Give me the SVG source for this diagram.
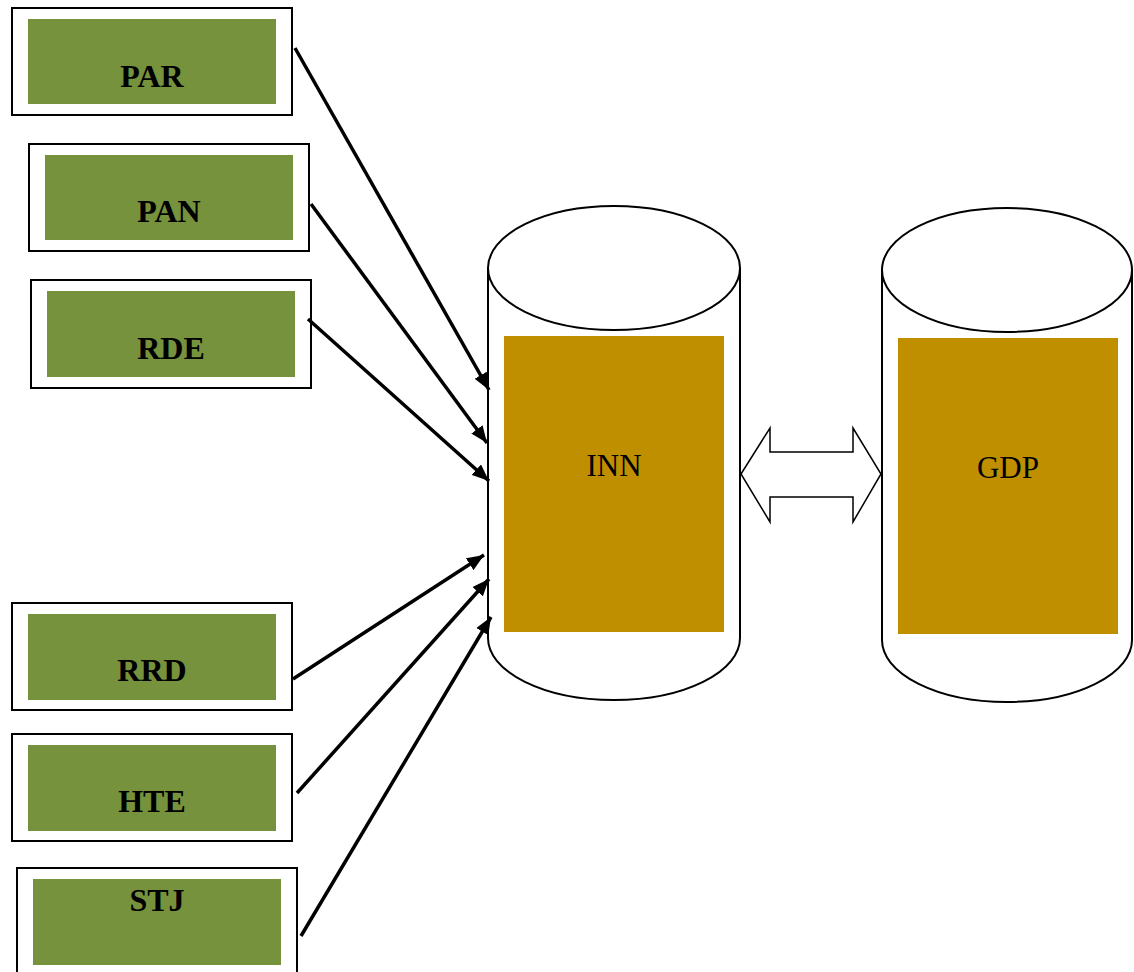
<svg xmlns="http://www.w3.org/2000/svg" width="1134" height="972" viewBox="0 0 1134 972">
  <style>
    .frame { fill: #ffffff; stroke: #000000; stroke-width: 2; }
    .panel { fill: #77923c; }
    .label { font-family: "Liberation Serif", "Times New Roman", serif; font-size: 32px; font-weight: bold; fill: #000000; text-anchor: middle; }
    .cyl { fill: #ffffff; stroke: #000000; stroke-width: 2; }
    .core { fill: #bf8f00; }
    .core-label { font-family: "Liberation Serif", "Times New Roman", serif; font-size: 31px; fill: #000000; text-anchor: middle; }
    .link { stroke: #000000; stroke-width: 3.5; fill: none; marker-end: url(#head); }
  </style>
  <defs>
    <marker id="head" markerUnits="userSpaceOnUse" markerWidth="18" markerHeight="14" refX="17" refY="7" orient="auto">
      <path d="M0,0 L17,7 L0,14 Z" fill="#000000"/>
    </marker>
  </defs>

  <rect width="1134" height="972" fill="#ffffff"/>

  <!-- input factors -->
  <g id="node-par">
    <rect class="frame" x="12" y="8" width="280" height="107"/>
    <rect class="panel" x="28" y="19" width="248" height="85"/>
    <text class="label" x="152" y="87">PAR</text>
  </g>
  <g id="node-pan">
    <rect class="frame" x="29" y="144" width="280" height="107"/>
    <rect class="panel" x="45" y="155" width="248" height="85"/>
    <text class="label" x="169" y="222">PAN</text>
  </g>
  <g id="node-rde">
    <rect class="frame" x="31" y="280" width="280" height="108"/>
    <rect class="panel" x="47" y="291" width="248" height="86"/>
    <text class="label" x="171" y="359">RDE</text>
  </g>
  <g id="node-rrd">
    <rect class="frame" x="12" y="603" width="280" height="107"/>
    <rect class="panel" x="28" y="614" width="248" height="86"/>
    <text class="label" x="152" y="681">RRD</text>
  </g>
  <g id="node-hte">
    <rect class="frame" x="12" y="734" width="280" height="107"/>
    <rect class="panel" x="28" y="745" width="248" height="86"/>
    <text class="label" x="152" y="812">HTE</text>
  </g>
  <g id="node-stj">
    <rect class="frame" x="17" y="868" width="280" height="110"/>
    <rect class="panel" x="33" y="879" width="248" height="86"/>
    <text class="label" x="157" y="911">STJ</text>
  </g>

  <!-- INN cylinder -->
  <g id="node-inn">
    <path class="cyl" d="M488,268 L488,638 A126,62 0 0 0 740,638 L740,268"/>
    <ellipse class="cyl" cx="614" cy="268" rx="126" ry="62"/>
    <rect class="core" x="504" y="336" width="220" height="296"/>
    <text class="core-label" x="614" y="476">INN</text>
  </g>

  <!-- GDP cylinder -->
  <g id="node-gdp">
    <path class="cyl" d="M882,270 L882,640 A125,62 0 0 0 1132,640 L1132,270"/>
    <ellipse class="cyl" cx="1007" cy="270" rx="125" ry="62"/>
    <rect class="core" x="898" y="338" width="220" height="296"/>
    <text class="core-label" x="1008" y="478">GDP</text>
  </g>

  <!-- connectors -->
  <g id="connectors">
    <line class="link" x1="295" y1="48" x2="489" y2="390"/>
    <line class="link" x1="311" y1="204" x2="487" y2="443"/>
    <line class="link" x1="308" y1="319" x2="489" y2="481"/>
    <line class="link" x1="293" y1="679" x2="484" y2="555"/>
    <line class="link" x1="297" y1="793" x2="489" y2="579"/>
    <line class="link" x1="301" y1="936" x2="491" y2="617"/>
    <path id="link-inn-gdp" d="M741,474 L770,428 L770,452 L853,452 L853,428 L881,474 L853,522 L853,497 L770,497 L770,522 Z" fill="#ffffff" stroke="#000000" stroke-width="1.5"/>
  </g>
</svg>
